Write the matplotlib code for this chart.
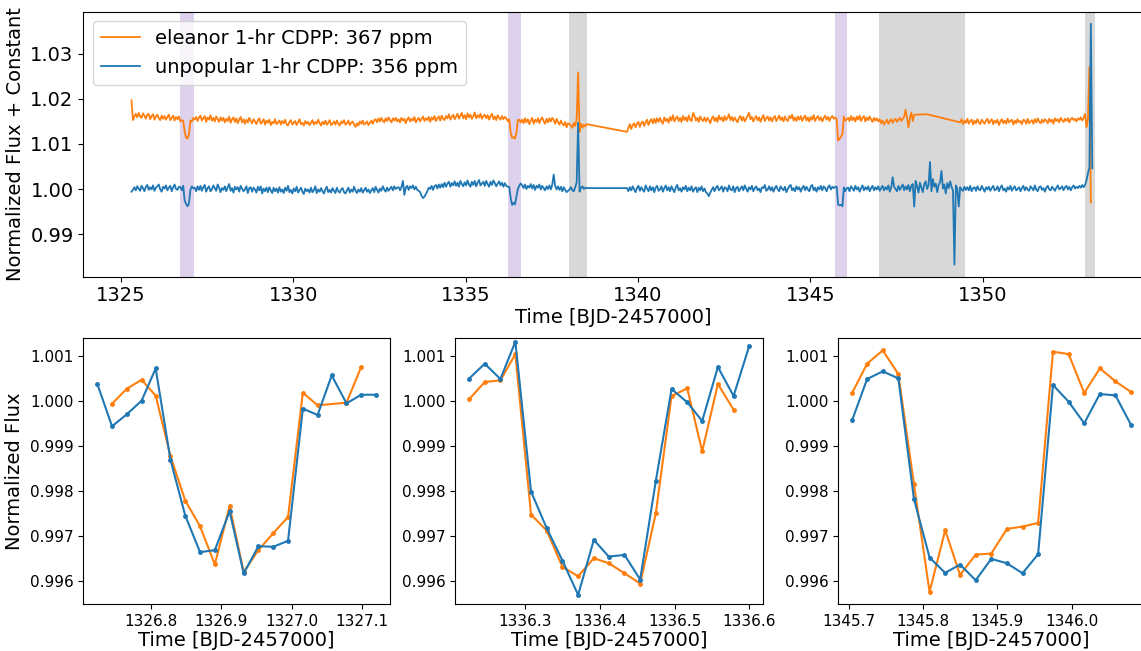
import numpy as np
import matplotlib
matplotlib.use("Agg")
import matplotlib.pyplot as plt

# Sector light curves, 1-hr samples. Each segment is (start BJD-2457000, flux offsets in ppm).
# eleanor offsets are raw; a constant is added when plotting so the two curves separate.
CADENCE_1HR = 1.0 / 24.0
ELEANOR_SHIFT = 0.015

unpop_segments = [
    (1325.307, [-600, -200, 400, -300, 600, 100, -400, 700, 200, -500, 500, 900, -200, 400, -100, 800, -400,
                300, 600, 1000, -100, -600, 500, 100, 800, -300, 300, 700, -500, 400, 1000, 0, -200, 500]),
    # transit 1
    (1326.724, [391, -288, 730, -2537, -3304, -3820, -3230, -162, 575, 147]),
    (1327.140, [300, -500, 600, -200, 700, -400, 400, 900, -600, 200, 600, -500, -100, 800, 200, -400, 1000, 300, -700, 200,
                -200, 600, -500, 400, 1100, -400, 200, -800, 500, -100, 400, -600, 700, 100, -500, -100, 600, -900, 200, 400,
                -600, 300, -100, -800, 500, -300, 600, -1000, 100, -500, 300, -700, 400, -300, -900, 300, -500, 100, -800, 400,
                -600, -100, -900, 300, -400, 700, -700, -200, -1000, 100, -500, 500, -800, -200, 300, -600, -1100, 100, -500, -100,
                -800, 300, -700, -300, 600, -900, -100, -600, 200, -500, -1000, -100, 500, -700, -200, -800, 200, -400, -900, 300,
                -500, -800, -100, 200, -700, -1000, -300, 300, -800, -100, -600, 500, -400, -900, -100, -600, 200, -800, -300, 300,
                -600, -100, -900, -300, 200, -700, 500, -200, -800, 100, -400, 600, -100, -600, 300, -400, 100, 500, -300, 600,
                0, 300]),
    (1333.057, [400, -300, 500, 1800, -1300, 300, 700, -200, 600, 200, 800, -100, 500, -200, -400, -700, -1500, -2000, -1700, -1100,
                -500, 300, 0, 700, -200, 600, 900, 100, 1000, 300, 1100, 400, 1400, 500, 1200, 1600, 500, 1300, 800, 1700,
                700, 1400, 500, 1800, 1100, 600, 1500, 800, 1900, 1000, 500, 1600, 900, 1800, 600, 1400, 2000, 800, 1200, 1600,
                700, 1800, 1100, 500, 1600, 900, 1900, 1300, 600, 1200, 1700, 800, 1400, 500, 1300, 700]),
    # transit 2
    (1336.225, [503, 496, -2004, -3536, -3077, -3410, -1760, -22, 762, 1235]),
    (1336.640, [800, 200, 1000, 0, 700, 300, 1100, 100, 900, -200, 700, 300, 1000, -100, 700, 200, -300, 600, 0, 800,
                -100, 1000, 3200, 700, -100, 600, -200, 500, -500, 400, -200, -700, -400, -100, 400, -300, -500, 400, 1500, 14700,
                -600, 300, 600, 0, 300, 200]),
    (1339.682, [200, -500, 400, -300, 600, -100, -700, 300, 700, -400, 400, -200, -600, 800, 100, -500, 600, -300, 400, -700,
                300, 700, -400, -100, 600, -600, 200, 800, -300, 400, -500, 600, -100, -700, 400, 900, -300, 200, -600, 400,
                -100, 700, -500, 300, -300, 600, -600, 0, 400, -700, 300, -300, 600, -500, 100, -700, -1000, -1600, -800, -200,
                400, -500, 300, 700, -300, 100, 600, -600, 400, 200, -500, 800, -100, -300, 600, -700, 200, 500, -500, 100,
                600, -300, 800, 100, -600, 400, -100, 700, -500, 200, 600, -300, 100, -700, 400, 200, 900, -400, -100, 600,
                -300, 400, -600, 200, 700, -100, -500, 600, 100, -300, 500, -700, 0, 600, 900, -300, 200, -500, 600, -100,
                400, -600, 200, 700, -300, 500, -100, -500, 600, 900, -300, 300, -600, 400, -100, 700, -300, 600, 200, -500,
                400, 800, -100, 500, 200]),
    # transit 3
    (1345.725, [496, 510, -3469, -3624, -3499, -3817, 362, -488, 133]),
    (1346.099, [300, -500, 600, 200, -400, 700, -100, 400, -600, 200, 800, -300, 400, -100, 600, -500, 200, 700, -300, 400,
                -100, 600, -400, 200, 700, -300, 400, -100, 800, -600, 400, 2600, 500, 0, -500, 700, -200, 400, 1000, -300,
                600, -100, 900, -500, 700, 1100, -3900, 1800, 600, -800, 1400, 300, -700, 1100, 1700, 0, 900, 6000, -500, 2200,
                500, 1200, -700, 900, 1500, 4000, 100, 1000, -1000, 1300, 200, 1700, 500, -400, -16800, 800, 100, -3900, 400, -100,
                -400, 500, -200, 400, -300, 700, -500, 200, 400, -400, 600, -100, -300, 700, 100, -600, 400, -100, 500, -400,
                200, 700, -300, -100, 600, -500, 300, 800, -300, 100, -600, 400, -100, 700, -400, 200, 600, -300, 0, 400,
                -500, 200, 700, -300, 400, -100, -400, 600, 200, -300, 800, -100, -500, 400, 600, -200, 200, -600, 300, 700,
                -100, -300, 500, 100, -400, 300, 800, -100, 200, 600, -300, 400, 700, -100, 500, -300, 400, 800, 100, 500,
                200, 700, 300, 900, 400, 900, 2000, 3500, 4800, 36700, 4600]),
]

eleanor_segments = [
    (1325.307, [4700, 300, 1100, 1700, 900, 1900, 1100, 800, 1800, 1300, 600, 1500, 1700, 500, 1200, 1600, 400,
                1100, 1500, 700, 300, 1300, 600, 1200, 400, 1000, 1500, 300, 800, 1300, 200, 1000, 500, 1100]),
    # transit 1
    (1326.724, [0, 280, 125, -2205, -3621, -3791, -2928, 192, -30, 767]),
    (1327.140, [400, 1000, 100, 900, 1300, 200, 700, 1200, -100, 900, 400, 1400, 200, 800, 0, 1100, 500, -100, 900, 200,
                800, -200, 600, 100, 1100, -300, 500, 900, -100, 700, -400, 400, 1000, -200, 500, -500, 400, -200, 800, 100,
                -400, 500, 0, -600, 300, 700, -500, -100, 500, -700, 200, -300, 400, -800, -100, -400, 500, -600, -200, 200,
                -700, 100, -400, 400, -600, -900, -100, 300, -700, -300, 100, -800, -200, 500, -600, -300, -900, 100, -500, -100,
                -800, -300, 300, -700, -100, -500, 400, -400, -900, -100, -600, 200, -700, -300, 300, -800, -500, 0, -700, 200,
                -500, -900, 0, -400, 300, -700, -400, 200, -800, -300, 0, -700, -1200, -400, -900, 0, -500, 200, -700, -400,
                0, -800, -300, 200, -500, 300, 500, -200, 700, 0, 800, 200, -200, 700, 100, 900, 300, -200, 700, 200,
                800, 0]),
    (1333.057, [500, -200, 800, 200, 600, -400, 500, 900, 0, 600, 200, 1000, -200, 400, 800, 0, 600, 1100, 100, 700,
                300, 1000, -100, 900, 400, 1200, 100, 700, 1100, 200, 1300, 600, 300, 1200, 700, 1600, 400, 1000, 1500, 500,
                1100, 1700, 600, 1300, 1900, 700, 1400, 500, 1800, 900, 1500, 600, 1200, 2000, 700, 1400, 900, 1700, 600, 1200,
                1500, 700, 1400, 400, 1200, 1700, 500, 1100, 300, 1400, 800, 400, 1200, 500, 1000, 700]),
    # transit 2
    (1336.225, [44, 466, -2515, -3676, -3484, -3817, -2478, 288, 385, -185]),
    (1336.640, [400, -400, 700, -200, 500, -600, 200, 800, -500, 400, -100, 700, -400, 500, 900, 0, -500, 600, -200, 700,
                0, 800, 300, -500, 600, -200, -700, 200, -500, -900, -100, -1300, -400, -600, -900, -1400, -300, -1000, 600, 10900,
                -2300, -500, -1400, -700, -1100, -600]),
    (1339.682, [-2300, -1400, -600, -1700, -800, -400, -1300, -500, -100, -1200, -300, 0, -1000, -200, 400, -800, 100, 500, -400, 600,
                -300, 700, -100, 800, 0, -500, 900, 100, 600, -300, 1000, 200, 1400, 0, 700, 1100, 100, 800, -100, 1200,
                300, 900, 0, 1300, 400, 100, 1900, 1300, 200, 800, -100, 1100, 400, 100, 900, 0, 800, 300, -400, 700,
                1100, 100, 800, -100, 1300, 400, 900, 0, 1200, 300, 800, 1600, 300, 1000, 100, 900, 300, -200, 800, 1200,
                200, 1000, 0, 600, 1300, 1900, 500, 1000, 0, 700, 1200, 200, 900, -100, 800, 1400, 100, 700, 1100, 200,
                900, 0, 800, 1200, 100, 700, 1300, 300, 900, 0, 1100, 400, 100, 1200, 700, 1500, 200, 900, 100, 1100,
                400, 1200, 100, 800, 1300, 200, 900, 0, 1000, 400, 1400, 100, 800, 1200, 300, 900, 0, 800, 1300, 400,
                1000, 100, 900, 1200, 600]),
    # transit 3
    (1345.725, [836, 607, -4231, -3854, -3380, -2781, 1102, 185, 444]),
    (1346.099, [800, 100, 1200, 300, 900, 0, 1100, 400, 1300, 100, 800, 1200, 0, 900, 300, 1100, 400, -100, 800, 200,
                700, 0, 500, -400, 200, -700, -200, 400, -500, 100, 500, -300, 300, 600, -100, 400, 800, 100, 600, 1000,
                2600, 800, -1300, 700, 2000, 100, 1500]),
    (1348.390, [1600]),
    (1349.349, [-200, 500, -600, 200, -300, 600, -500, 100, 400, -700, 200, -400, 500, -200, -600, 400, -100, -500, 200, 600,
                -400, 100, 500, -600, 200, -300, 400, -800, 0, 500, -400, 200, -500, 600, -200, 100, 400, -700, 200, -400,
                500, -200, 100, -600, 400, 200, -500, 600, -400, 0, 300, -500, 500, -200, 700, 0, -400, 400, -200, 500,
                200, -400, 600, -100, 400, -500, 700, 100, 500, -200, 800, 300, -100, 600, 100, 700, -200, 500, 800, 300,
                600, 0, 700, 400, 900, 200, 800, 1700, -1300, 500, 12100, -18000]),
]

# Transit windows shown in the zoom panels, and stretches affected by scattered light / momentum dumps
transit_windows = [(1326.724, 1327.120), (1336.225, 1336.600), (1345.705, 1346.080)]
flagged_windows = [(1338.00, 1338.52), (1347.00, 1349.50), (1352.98, 1353.27)]

# Zoom panels: 30-min cadence, normalized flux (None = point removed by quality flags)
zoom_time = [
    [1326.724, 1326.745, 1326.766, 1326.787, 1326.807, 1326.828, 1326.849, 1326.870, 1326.891, 1326.912,
     1326.932, 1326.953, 1326.974, 1326.995, 1327.016, 1327.037, 1327.057, 1327.078, 1327.099, 1327.120],
    [1336.225, 1336.246, 1336.267, 1336.287, 1336.308, 1336.329, 1336.350, 1336.371, 1336.392, 1336.412,
     1336.433, 1336.454, 1336.475, 1336.496, 1336.517, 1336.537, 1336.558, 1336.579, 1336.600],
    [1345.705, 1345.725, 1345.746, 1345.767, 1345.788, 1345.809, 1345.830, 1345.850, 1345.871, 1345.892,
     1345.913, 1345.934, 1345.955, 1345.975, 1345.996, 1346.017, 1346.038, 1346.059, 1346.080],
]
zoom_unpop = [
    [1.000391, 0.999447, 0.999712, 1.000015, 1.000730, 0.998702, 0.997463, 0.996652, 0.996696, 0.997559,
     0.996180, 0.996785, 0.996770, 0.996903, 0.999838, 0.999698, 1.000575, 0.999956, 1.000147, 1.000147],
    [1.000503, 1.000836, 1.000496, 1.001324, 0.997996, 0.997182, 0.996464, 0.995703, 0.996923, 0.996553,
     0.996590, 0.996043, 0.998240, 1.000274, 0.999978, 0.999564, 1.000762, 1.000118, 1.001235],
    [0.999586, 1.000496, 1.000666, 1.000510, 0.997833, 0.996531, 0.996191, 0.996376, 0.996028, 0.996501,
     0.996405, 0.996183, 0.996605, 1.000362, 0.999993, 0.999512, 1.000163, 1.000133, 0.999475],
]
zoom_eleanor = [
    [None, 0.999948, 1.000280, 1.000479, 1.000125, 0.998783, 0.997795, 0.997227, 0.996379, 0.997677,
     0.996209, 0.996700, 0.997072, 0.997434, 1.000192, 0.999912, None, 0.999970, 1.000767, None],
    [1.000044, 1.000429, 1.000466, 1.001050, 0.997485, 0.997130, 0.996324, 0.996117, 0.996516, 0.996405,
     0.996183, 0.995954, 0.997522, 1.000118, 1.000288, 0.998891, 1.000385, 0.999815, None],
    [1.000192, 1.000836, 1.001132, 1.000607, 0.998158, 0.995769, 0.997138, 0.996146, 0.996598, 0.996620,
     0.997167, 0.997219, 0.997300, 1.001102, 1.001050, 1.000185, 1.000733, 1.000444, 1.000207],
]

eleanor_label = "eleanor 1-hr CDPP: 367 ppm"
unpop_label = "unpopular 1-hr CDPP: 356 ppm"
ORANGE = "#ff7f0e"
BLUE = "#1f77b4"


def stitch(segments):
    t, f = [], []
    for t0, ppm in segments:
        t.append(t0 + CADENCE_1HR * np.arange(len(ppm)))
        f.append(1.0 + np.asarray(ppm, float) * 1e-6)
    return np.concatenate(t), np.concatenate(f)


def drop_missing(t, f):
    t = np.asarray(t, float)
    f = np.array([np.nan if v is None else v for v in f], float)
    good = np.isfinite(f)
    return t[good], f[good]


W, H = 1141, 651
fig = plt.figure(figsize=(W / 100, H / 100), dpi=100)


def px_axes(left, top, right, bottom):
    return fig.add_axes([left / W, 1 - bottom / H, (right - left) / W, (bottom - top) / H])


# full sector
ax = px_axes(83.3, 11.7, 1143.5, 276.7)
for lo, hi in transit_windows:
    ax.axvspan(lo, hi, color="tab:purple", alpha=0.3, lw=0)
for lo, hi in flagged_windows:
    ax.axvspan(lo, hi, color="gray", alpha=0.3, lw=0)

t_el, f_el = stitch(eleanor_segments)
t_un, f_un = stitch(unpop_segments)
ax.plot(t_el, f_el + ELEANOR_SHIFT, color=ORANGE, lw=1.3, label=eleanor_label)
ax.plot(t_un, f_un, color=BLUE, lw=1.3, label=unpop_label)
ax.set_xlabel("Time [BJD-2457000]", fontsize=14, labelpad=2)
ax.set_ylabel("Normalized Flux + Constant", fontsize=14)
ax.tick_params(labelsize=14)
ax.legend(loc="upper left", fontsize=14)

# zoom panels around each transit
panel_px = [(83.3, 390.0), (455.0, 763.3), (838.3, 1145.0)]
for i, (left, right) in enumerate(panel_px):
    axz = px_axes(left, 338.3, right, 604.0)
    te, fe = drop_missing(zoom_time[i], zoom_eleanor[i])
    tu, fu = drop_missing(zoom_time[i], zoom_unpop[i])
    axz.plot(te, fe, ".-", color=ORANGE, lw=1.5, ms=5)
    axz.plot(tu, fu, ".-", color=BLUE, lw=1.5, ms=5)
    axz.set_ylim(0.99550, 1.00140)
    axz.ticklabel_format(useOffset=False)
    axz.tick_params(labelsize=11)
    axz.set_xlabel("Time [BJD-2457000]", fontsize=14, labelpad=2)
    if i == 0:
        axz.set_ylabel("Normalized Flux", fontsize=14)

fig.savefig("out.png", dpi=100)
